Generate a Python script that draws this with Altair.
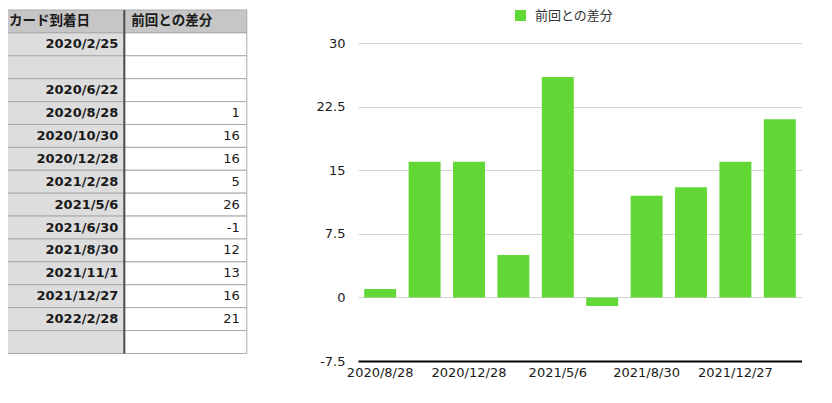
import altair as alt
import pandas as pd

# ---- data ----
header = ["カード到着日", "前回との差分"]
dates = ["2020/2/25", "", "2020/6/22", "2020/8/28", "2020/10/30", "2020/12/28",
         "2021/2/28", "2021/5/6", "2021/6/30", "2021/8/30", "2021/11/1",
         "2021/12/27", "2022/2/28", ""]
diffs = [None, None, None, 1, 16, 16, 5, 26, -1, 12, 13, 16, 21, None]
series_name = "前回との差分"
axis_dates = ["2020/8/28", "2020/12/28", "2021/5/6", "2021/8/30", "2021/12/27"]
y_ticks = [-7.5, 0, 7.5, 15, 22.5, 30]

FONT = "DejaVu Sans, Noto Sans CJK JP"
JFONT = "Noto Sans CJK JP"

# ---- table (spreadsheet) ----
cells = []
for c in range(2):
    cells.append({"r": 0, "r1": 1, "c": c, "c1": c + 1, "fill": "#c6c6c6"})
for i in range(len(dates)):
    r = i + 1
    cells.append({"r": r, "r1": r + 1, "c": 0, "c1": 1, "fill": "#dddddd"})
    cells.append({"r": r, "r1": r + 1, "c": 1, "c1": 2, "fill": "#ffffff"})
cells_df = pd.DataFrame(cells)

n_rows = len(dates) + 1
xs = alt.Scale(domain=[0.05, 2.01], nice=False, zero=False)
ys = alt.Scale(domain=[-0.087, 15.33], nice=False, zero=False, reverse=True)

rects = alt.Chart(cells_df).mark_rect(stroke="#a9a9a9", strokeWidth=1, clip=True).encode(
    x=alt.X("c:Q", scale=xs, axis=None),
    x2="c1:Q",
    y=alt.Y("r:Q", scale=ys, axis=None),
    y2="r1:Q",
    fill=alt.Fill("fill:N", scale=None),
)

divider_df = pd.DataFrame({"c": [1], "r": [0], "r1": [n_rows]})
divider = alt.Chart(divider_df).mark_rule(color="#4d4d4d", strokeWidth=2).encode(
    x=alt.X("c:Q", scale=xs, axis=None),
    y=alt.Y("r:Q", scale=ys, axis=None),
    y2="r1:Q",
)

head_df = pd.DataFrame({"c": [0, 1], "r": [0.5, 0.5], "t": header})
head_text = alt.Chart(head_df).mark_text(
    align="left", baseline="middle", dx=7, font=JFONT, fontSize=13.5,
    fontWeight="bold", color="#1a1a1a"
).encode(
    x=alt.X("c:Q", scale=xs, axis=None),
    y=alt.Y("r:Q", scale=ys, axis=None),
    text="t:N",
)

date_df = pd.DataFrame({"c": [1] * len(dates),
                        "r": [i + 1.5 for i in range(len(dates))],
                        "t": dates})
date_text = alt.Chart(date_df).mark_text(
    align="right", baseline="middle", dx=-6, font=FONT, fontSize=13,
    fontWeight="bold", color="#1a1a1a"
).encode(
    x=alt.X("c:Q", scale=xs, axis=None),
    y=alt.Y("r:Q", scale=ys, axis=None),
    text="t:N",
)

val_df = pd.DataFrame({"c": [2] * len(diffs),
                       "r": [i + 1.5 for i in range(len(diffs))],
                       "t": ["" if v is None else str(v) for v in diffs]})
val_text = alt.Chart(val_df).mark_text(
    align="right", baseline="middle", dx=-7, font=FONT, fontSize=13,
    color="#1a1a1a"
).encode(
    x=alt.X("c:Q", scale=xs, axis=None),
    y=alt.Y("r:Q", scale=ys, axis=None),
    text="t:N",
)

table = alt.layer(rects, divider, head_text, date_text, val_text).properties(
    width=240, height=353
)

# ---- bar chart ----
bar_dates = [d for d, v in zip(dates, diffs) if v is not None]
bar_vals = [v for v in diffs if v is not None]
bar_df = pd.DataFrame({"date": bar_dates, "diff": bar_vals, "series": series_name})

bars = alt.Chart(bar_df).mark_bar().encode(
    x=alt.X("date:N", sort=bar_dates,
            scale=alt.Scale(paddingInner=0.28, paddingOuter=0.14),
            axis=alt.Axis(title=None, values=axis_dates, labelAngle=0, ticks=False,
                          labelOverlap=False, labelFont=FONT, labelFontSize=13,
                          labelColor="#1a1a1a", labelPadding=5,
                          domainColor="#000000", domainWidth=2, grid=False)),
    y=alt.Y("diff:Q",
            scale=alt.Scale(domain=[-7.5, 34.13], nice=False),
            axis=alt.Axis(title=None, values=y_ticks, grid=True, gridColor="#d3d3d3",
                          gridWidth=1, domain=False, ticks=False, labelPadding=13,
                          labelFont=FONT, labelFontSize=13, labelColor="#1a1a1a",
                          labelExpr="'' + datum.value")),
    color=alt.Color("series:N",
                    scale=alt.Scale(domain=[series_name], range=["#62d837"]),
                    legend=alt.Legend(title=None, orient="none", legendX=506, legendY=1,
                                      symbolType="square", symbolSize=121,
                                      symbolStrokeWidth=0, labelFont=JFONT,
                                      labelFontSize=13, labelColor="#333333",
                                      labelOffset=8, padding=0)),
).properties(width=444, height=353)

chart = alt.hconcat(table, bars, spacing=110, bounds="flush").properties(
    padding=0
).configure_view(stroke=None)

chart.save("out.html", embed_options={"renderer": "svg", "actions": False})
